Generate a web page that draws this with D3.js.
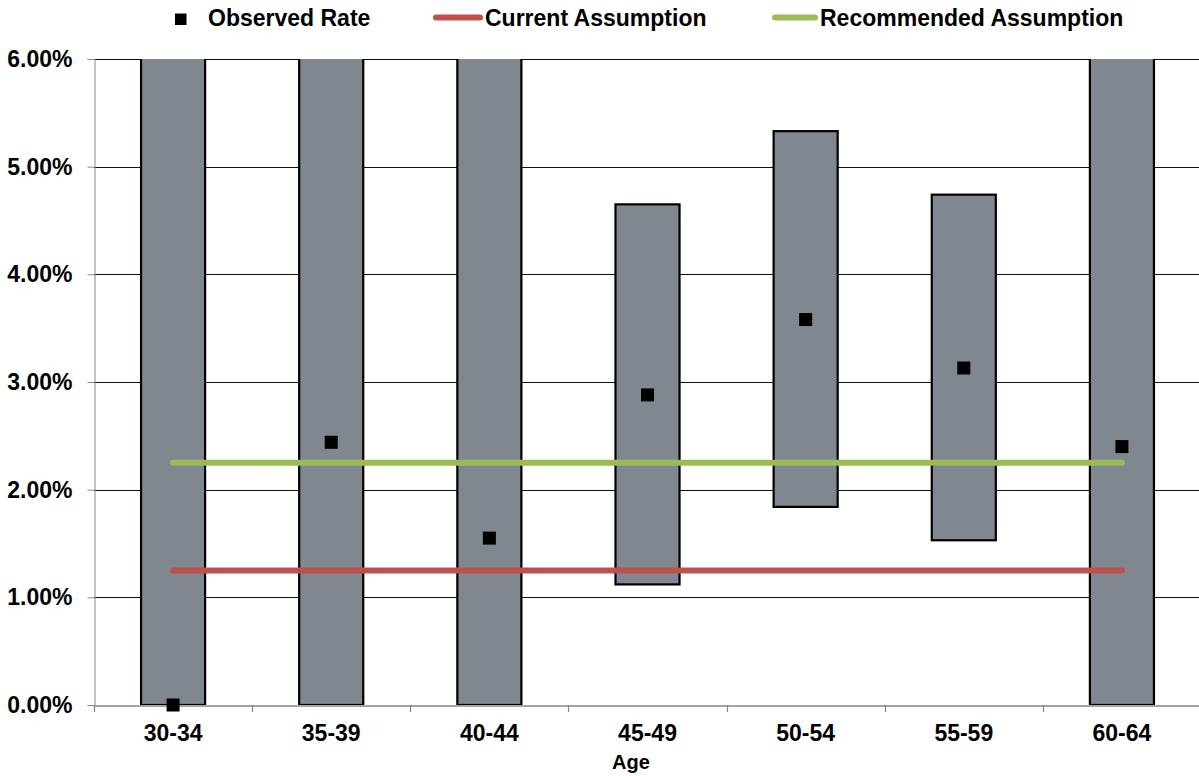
<!DOCTYPE html>
<html>
<head>
<meta charset="utf-8">
<script src="https://cdn.jsdelivr.net/npm/d3@7"></script>
<style>
  html, body { margin: 0; padding: 0; background: #fff; }
  svg { display: block; font-family: "Liberation Sans", Arial, sans-serif; font-weight: bold; }
</style>
</head>
<body>
<svg id="chart" width="1199" height="776"></svg>
<script>
// ---- data ----
const categories = ["30-34", "35-39", "40-44", "45-49", "50-54", "55-59", "60-64"];
const observedRate = [0.0000, 0.0244, 0.0155, 0.0288, 0.0358, 0.0313, 0.0240];
const rangeLow  = [0.0000, 0.0000, 0.0000, 0.0112, 0.0184, 0.0153, 0.0000];
const rangeHigh = [0.0700, 0.0700, 0.0700, 0.0465, 0.0533, 0.0474, 0.0700]; // 0.07 = beyond the axis top (clipped)
const currentAssumption = [0.0125, 0.0125, 0.0125, 0.0125, 0.0125, 0.0125, 0.0125];
const recommendedAssumption = [0.0225, 0.0225, 0.0225, 0.0225, 0.0225, 0.0225, 0.0225];
const yTicks = [0, 0.01, 0.02, 0.03, 0.04, 0.05, 0.06];
const legendLabels = ["Observed Rate", "Current Assumption", "Recommended Assumption"];
const xTitle = "Age";

// ---- layout ----
const svg = d3.select("#chart");
const plot = { left: 94, right: 1201, top: 59, bottom: 705 };
const x = d3.scaleBand().domain(categories).range([plot.left, plot.right]).padding(0);
const y = d3.scaleLinear().domain([0, 0.06]).range([plot.bottom, plot.top]);
const barW = x.bandwidth() * 0.405;
const cx = c => x(c) + x.bandwidth() / 2;
const fmt = d3.format(".2%");
const fontFam = "'Liberation Sans', Arial, sans-serif";

const colors = { bar: "#80878f", red: "#c0504d", green: "#9bbb59", axis: "#868686", grid: "#111" };

svg.append("defs").append("clipPath").attr("id", "clip")
  .append("rect").attr("x", plot.left).attr("y", plot.top)
  .attr("width", plot.right - plot.left).attr("height", plot.bottom - plot.top);

// gridlines
svg.append("g").selectAll("line").data(yTicks.filter(t => t > 0)).join("line")
  .attr("x1", plot.left).attr("x2", plot.right)
  .attr("y1", d => Math.round(y(d)) + 0.5).attr("y2", d => Math.round(y(d)) + 0.5)
  .attr("stroke", colors.grid).attr("stroke-width", 1);

// y axis
const yAxis = svg.append("g").attr("transform", `translate(${plot.left + 0.5},0)`)
  .call(d3.axisLeft(y).tickValues(yTicks).tickFormat(fmt).tickSize(7).tickPadding(15));
yAxis.select(".domain").attr("stroke", colors.axis);
yAxis.selectAll(".tick line").attr("stroke", colors.axis);
yAxis.selectAll(".tick text").attr("fill", "#000").style("font-size", "23px")
  .style("font-family", fontFam).style("font-weight", "bold");

// bars
const bars = svg.append("g").attr("clip-path", "url(#clip)");
bars.selectAll("rect").data(categories).join("rect")
  .attr("x", (d) => cx(d) - barW / 2)
  .attr("y", (d, i) => y(rangeHigh[i]))
  .attr("width", barW)
  .attr("height", (d, i) => y(rangeLow[i]) - y(rangeHigh[i]))
  .attr("fill", colors.bar).attr("stroke", "#000").attr("stroke-width", 2.2);

// x axis
const xAxis = svg.append("g").attr("transform", `translate(0,${plot.bottom + 0.5})`)
  .call(d3.axisBottom(x).tickSize(0).tickPadding(19));
xAxis.select(".domain").attr("stroke", colors.axis).attr("stroke-width", 1.5);
xAxis.selectAll(".tick text").attr("fill", "#000").style("font-size", "23px")
  .style("font-family", fontFam).style("font-weight", "bold");
// tick marks at category boundaries
svg.append("g").selectAll("line").data(categories.concat(["__end"])).join("line")
  .attr("x1", (d, i) => Math.round(plot.left + i * x.step()) + 0.5)
  .attr("x2", (d, i) => Math.round(plot.left + i * x.step()) + 0.5)
  .attr("y1", plot.bottom).attr("y2", plot.bottom + 7)
  .attr("stroke", colors.axis).attr("stroke-width", 1.2);

// assumption lines
const line = d3.line().x((d, i) => cx(categories[i])).y(d => y(d));
svg.append("path").datum(currentAssumption).attr("d", line)
  .attr("fill", "none").attr("stroke", colors.red).attr("stroke-width", 6).attr("stroke-linecap", "round");
svg.append("path").datum(recommendedAssumption).attr("d", line)
  .attr("fill", "none").attr("stroke", colors.green).attr("stroke-width", 6).attr("stroke-linecap", "round");

// observed points
const ps = 13;
svg.append("g").selectAll("rect").data(categories).join("rect")
  .attr("x", d => cx(d) - ps / 2)
  .attr("y", (d, i) => y(observedRate[i]) - ps / 2)
  .attr("width", ps).attr("height", ps).attr("fill", "#000");

// x title
svg.append("text").attr("x", 631).attr("y", 769).attr("text-anchor", "middle")
  .style("font-size", "20px").text(xTitle);

// legend
const lg = svg.append("g").style("font-size", "23px");
lg.append("rect").attr("x", 175).attr("y", 13.5).attr("width", 11.5).attr("height", 11.5).attr("fill", "#000");
lg.append("text").attr("x", 208).attr("y", 25.5).text(legendLabels[0]);
lg.append("line").attr("x1", 436).attr("x2", 480).attr("y1", 17.5).attr("y2", 17.5)
  .attr("stroke", colors.red).attr("stroke-width", 6).attr("stroke-linecap", "round");
lg.append("text").attr("x", 485).attr("y", 25.5).text(legendLabels[1]);
lg.append("line").attr("x1", 775).attr("x2", 815).attr("y1", 17.5).attr("y2", 17.5)
  .attr("stroke", colors.green).attr("stroke-width", 6).attr("stroke-linecap", "round");
lg.append("text").attr("x", 820).attr("y", 25.5).text(legendLabels[2]);
</script>
</body>
</html>
